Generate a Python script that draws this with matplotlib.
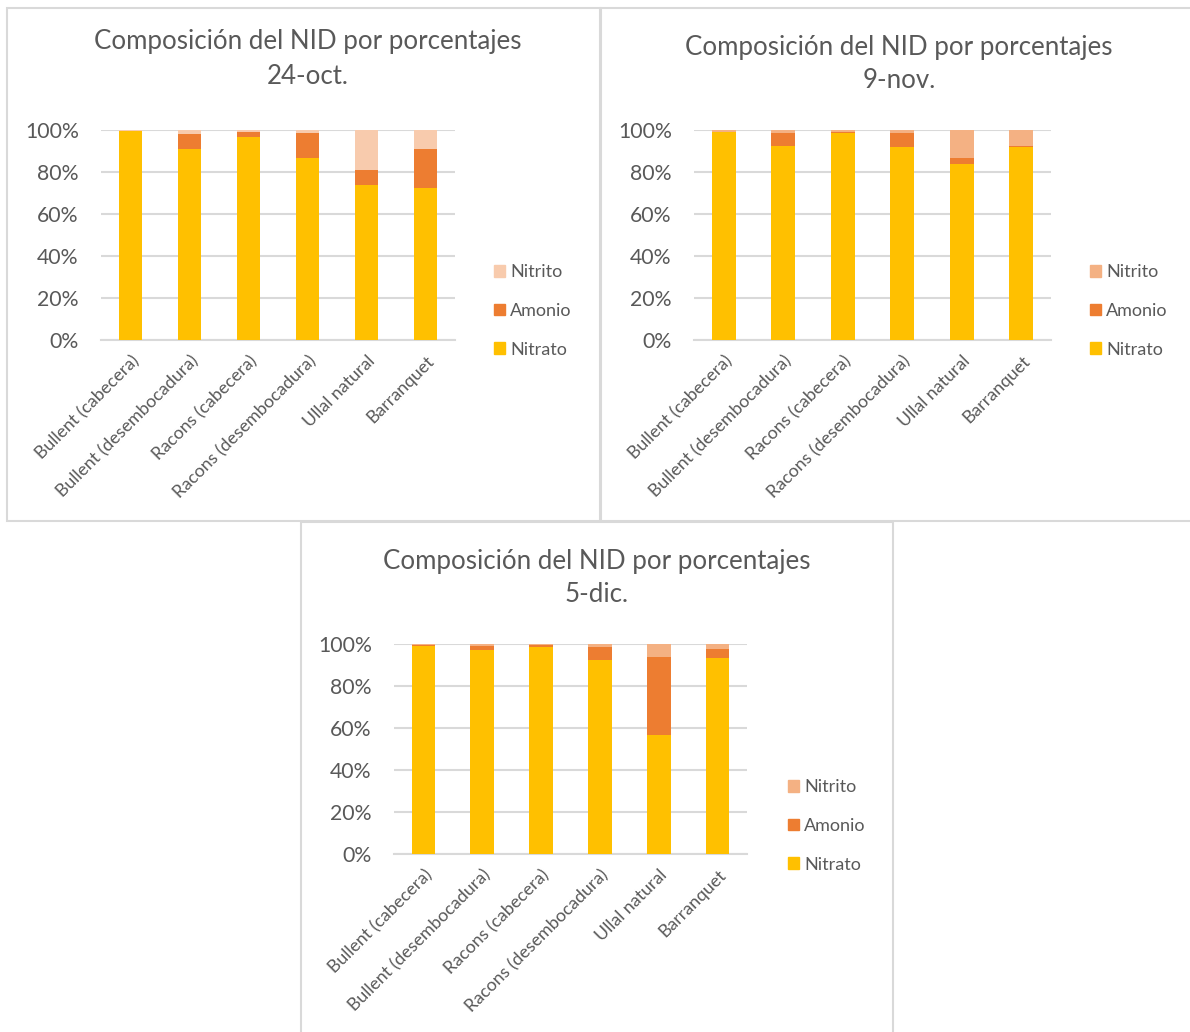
import matplotlib
matplotlib.use('Agg')
import matplotlib.pyplot as plt
import matplotlib.transforms as mtransforms
from matplotlib.patches import Rectangle, Patch
import numpy as np

plt.rcParams['font.family'] = ['Lato', 'DejaVu Sans']

# ============================================================
# DATA (percentages)
# ============================================================
sites = ['Bullent (cabecera)', 'Bullent (desembocadura)', 'Racons (cabecera)',
         'Racons (desembocadura)', 'Ullal natural', 'Barranquet']
series = ['Nitrato', 'Amonio', 'Nitrito']

dates = ['24-oct.', '9-nov.', '5-dic.']

nitrato_oct = [99.5, 91.0, 96.8, 86.8, 74.0, 72.5]
amonio_oct = [0.0, 7.1, 2.4, 11.9, 7.0, 18.5]
nitrito_oct = [0.5, 1.9, 0.8, 1.3, 19.0, 9.0]

nitrato_nov = [99.2, 92.4, 98.6, 91.7, 83.7, 91.7]
amonio_nov = [0.0, 6.3, 0.6, 7.0, 3.1, 0.8]
nitrito_nov = [0.8, 1.3, 0.8, 1.3, 13.2, 7.5]

nitrato_dic = [99.2, 97.0, 98.7, 92.5, 56.8, 93.5]
amonio_dic = [0.5, 2.2, 0.8, 5.9, 36.9, 4.0]
nitrito_dic = [0.3, 0.8, 0.5, 1.6, 6.3, 2.5]

# ============================================================
# STYLE
# ============================================================
W, H = 1190, 1032
TXT = '#595959'
GRID = '#D9D9D9'
c_nitrato = '#FFC000'
c_amonio = '#ED7D31'
nitrito_colors = ['#F8CBAD', '#F4B183', '#F4B183']

fig = plt.figure(figsize=(W / 100, H / 100), dpi=100)


def px_rect(l, t, r, b):
    return [l / W, 1 - b / H, (r - l) / W, (b - t) / H]


# panel frames (left, top, right, bottom) in pixels
frames = [(7, 8, 600, 521), (601, 8, 1195, 521), (301, 522, 893, 1040)]
for l, t, r, b in frames:
    fig.patches.append(Rectangle((l / W, 1 - b / H), (r - l) / W, (b - t) / H,
                                 transform=fig.transFigure, fill=False,
                                 edgecolor=GRID, linewidth=1.5))

# plot areas
axes_px = [(101, 130, 455, 340), (694, 130, 1051, 340), (394, 644, 747, 854)]
titles_xy = [(308, 42), (899, 47), (597, 561)]
legend_xy = [(494, 311), (1090, 311), (788, 826)]

data = [(nitrato_oct, amonio_oct, nitrito_oct),
        (nitrato_nov, amonio_nov, nitrito_nov),
        (nitrato_dic, amonio_dic, nitrito_dic)]

shift = mtransforms.ScaledTranslation(6 / 100, 4 / 100, fig.dpi_scale_trans)

x = np.arange(len(sites))
for k in range(3):
    ax = fig.add_axes(px_rect(*axes_px[k]))
    nit, amo, nitr = data[k]
    nit = np.array(nit); amo = np.array(amo); nitr = np.array(nitr)
    tot = nit + amo + nitr
    nit, amo, nitr = nit / tot, amo / tot, nitr / tot
    ax.bar(x, nit, 0.4, color=c_nitrato, zorder=3)
    ax.bar(x, amo, 0.4, bottom=nit, color=c_amonio, zorder=3)
    ax.bar(x, nitr, 0.4, bottom=nit + amo, color=nitrito_colors[k], zorder=3)

    ax.set_xlim(-0.5, len(sites) - 0.5)
    ax.set_ylim(0, 1)
    ax.set_yticks(np.arange(0, 1.01, 0.2))
    ax.set_yticklabels([f'{int(round(v * 100))}%' for v in np.arange(0, 1.01, 0.2)])
    ax.yaxis.grid(True, color=GRID, linewidth=1.5, zorder=0)
    ax.set_axisbelow(True)
    for s in ['top', 'right', 'left']:
        ax.spines[s].set_visible(False)
    ax.spines['bottom'].set_color(GRID)
    ax.spines['bottom'].set_linewidth(1.5)
    ax.tick_params(axis='both', length=0, colors=TXT)
    ax.tick_params(axis='y', labelsize=15.3, pad=16)
    ax.set_xticks(x)
    ax.set_xticklabels(sites, rotation=45, ha='right', va='center',
                       rotation_mode='anchor', fontsize=12.8, color=TXT)
    ax.tick_params(axis='x', pad=16)
    for lab in ax.get_xticklabels():
        lab.set_transform(lab.get_transform() + shift)
    ax.set_facecolor('none')

    tx, ty = titles_xy[k]
    fig.text(tx / W, 1 - ty / H, 'Composición del NID por porcentajes',
             ha='center', va='center', fontsize=18.6, color=TXT)
    fig.text(tx / W, 1 - (ty + 34) / H, dates[k],
             ha='center', va='center', fontsize=18.6, color=TXT)

    handles = [Patch(color=nitrito_colors[k]), Patch(color=c_amonio),
               Patch(color=c_nitrato)]
    lx, ly = legend_xy[k]
    ax.legend(handles, ['Nitrito', 'Amonio', 'Nitrato'], loc='center left',
              bbox_to_anchor=(lx / W, 1 - ly / H), bbox_transform=fig.transFigure,
              frameon=False, fontsize=13, labelcolor=TXT, handlelength=0.6,
              handleheight=0.6, handletextpad=0.3, labelspacing=1.25,
              borderpad=0, borderaxespad=0)

plt.savefig('out.png', dpi=100)
plt.close()
